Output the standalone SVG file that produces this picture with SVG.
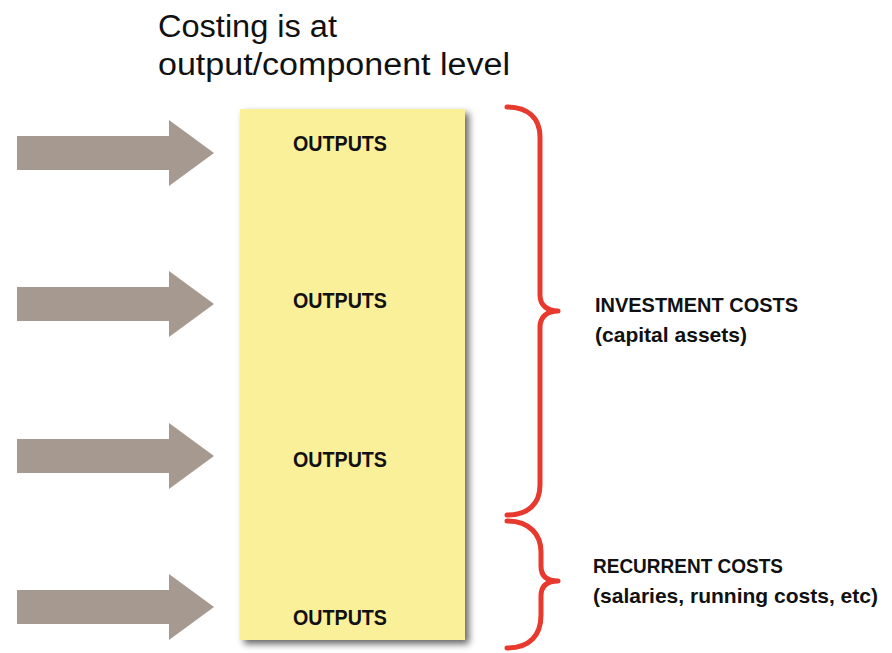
<svg xmlns="http://www.w3.org/2000/svg" width="892" height="653" viewBox="0 0 892 653">
<defs>
<style>
.arrow{fill:#a69a90}
.brace{fill:none;stroke:#e8392e;stroke-width:5;stroke-linecap:round;stroke-linejoin:round}
.out{font-family:"Liberation Sans",Arial,sans-serif;font-weight:bold;font-size:22px;fill:#111}
.lbl{font-family:"Liberation Sans",Arial,sans-serif;font-weight:bold;font-size:21px;fill:#111}
.title{font-family:"Liberation Sans",Arial,sans-serif;font-size:31px;fill:#111}
</style>
<filter id="sh" x="-10%" y="-5%" width="125%" height="112%">
<feDropShadow dx="4" dy="4" stdDeviation="3.5" flood-color="#000" flood-opacity="0.6"/>
</filter>
<path id="arr" d="M17,-17 H169 V-33 L214,0 L169,33 V17 H17 Z"/>
</defs>
<rect width="892" height="653" fill="#fff"/>
<g id="title">
<text class="title" x="158" y="37" textLength="179" lengthAdjust="spacingAndGlyphs">Costing is at</text>
<text class="title" x="158" y="75" textLength="352" lengthAdjust="spacingAndGlyphs">output/component level</text>
</g>
<g id="connectors">
<use href="#arr" class="arrow" transform="translate(0,153)"/>
<use href="#arr" class="arrow" transform="translate(0,304)"/>
<use href="#arr" class="arrow" transform="translate(0,456)"/>
<use href="#arr" class="arrow" transform="translate(0,607)"/>
</g>
<g id="outputs-box">
<rect x="240" y="109" width="225" height="531" fill="#fbf09a" filter="url(#sh)"/>
<text class="out" x="293" y="151" textLength="94" lengthAdjust="spacingAndGlyphs">OUTPUTS</text>
<text class="out" x="293" y="308" textLength="94" lengthAdjust="spacingAndGlyphs">OUTPUTS</text>
<text class="out" x="293" y="467" textLength="94" lengthAdjust="spacingAndGlyphs">OUTPUTS</text>
<text class="out" x="293" y="625" textLength="94" lengthAdjust="spacingAndGlyphs">OUTPUTS</text>
</g>
<g id="investment-costs">
<path class="brace" d="M507,107 C528,107 540,118 540,137 V295 C540,305 547,311 558,311 C547,311 540,317 540,327 V485 C540,504 528,515 507,515"/>
<text class="lbl" x="595" y="312" textLength="203" lengthAdjust="spacingAndGlyphs">INVESTMENT COSTS</text>
<text class="lbl" x="595" y="342" textLength="152" lengthAdjust="spacingAndGlyphs">(capital assets)</text>
</g>
<g id="recurrent-costs">
<path class="brace" d="M507,521 C530,521 541,535 541,552 V566 C541,576 547,581 558,581 C547,581 541,586 541,596 V615 C541,635 530,648 507,648"/>
<text class="lbl" x="593" y="573" textLength="190" lengthAdjust="spacingAndGlyphs">RECURRENT COSTS</text>
<text class="lbl" x="593" y="603" textLength="285" lengthAdjust="spacingAndGlyphs">(salaries, running costs, etc)</text>
</g>
</svg>
